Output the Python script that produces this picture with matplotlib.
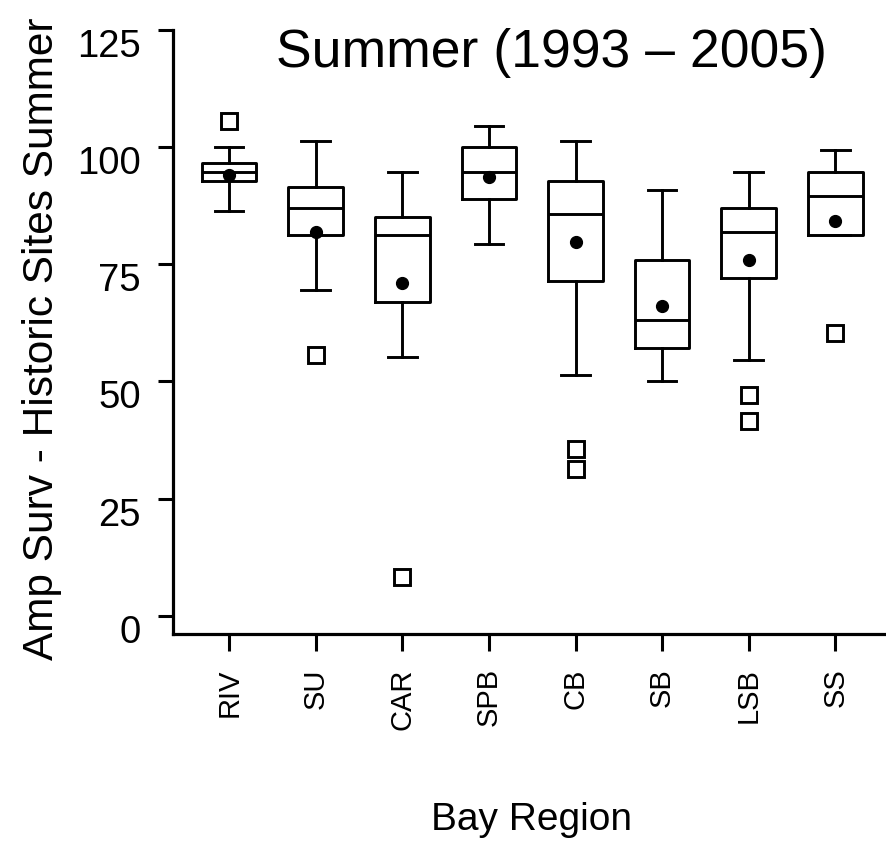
import matplotlib
matplotlib.use("Agg")
import matplotlib.pyplot as plt
from matplotlib.transforms import ScaledTranslation

font = "Liberation Sans"

regions = ["RIV", "SU", "CAR", "SPB", "CB", "SB", "LSB", "SS"]
whis_hi = [99.9, 101.2, 94.7, 104.4, 101.2, 90.8, 94.7, 99.3]
q3 = [96.6, 91.5, 85.1, 99.9, 92.7, 75.9, 87.0, 94.7]
medians = [94.7, 87.0, 81.3, 94.7, 85.6, 63.0, 81.8, 89.5]
means = [94.1, 81.8, 70.9, 93.5, 79.8, 66.1, 75.9, 84.3]
q1 = [92.7, 81.3, 66.9, 89.0, 71.4, 57.2, 72.0, 81.3]
whis_lo = [86.3, 69.4, 55.2, 79.2, 51.3, 50.0, 54.5, 81.3]
outliers = [[105.5], [55.6], [8.3], [], [35.5, 31.3], [], [47.1, 41.5], [60.4]]

stats = []
for i, name in enumerate(regions):
    stats.append(dict(label=name, whishi=whis_hi[i], q3=q3[i], med=medians[i],
                      mean=means[i], q1=q1[i], whislo=whis_lo[i], fliers=outliers[i]))

fig = plt.figure(figsize=(8.86, 8.45), dpi=100)
ax = fig.add_axes([0.195, 0.2485, 0.805, 0.7152])

lw = 2.1
ax.bxp(stats, positions=range(1, 9), widths=0.63, showmeans=True,
       boxprops=dict(color="black", linewidth=lw),
       whiskerprops=dict(color="black", linewidth=lw),
       capprops=dict(color="black", linewidth=lw),
       medianprops=dict(color="black", linewidth=lw),
       meanprops=dict(marker="o", markerfacecolor="black", markeredgecolor="black", markersize=8.5),
       flierprops=dict(marker="s", markerfacecolor="white", markeredgecolor="black",
                       markersize=11.5, markeredgewidth=2.1),
       capwidths=0.33)

ax.set_xlim(0.349, 8.585)
ax.set_ylim(-3.85, 125)
ax.set_yticks([0, 25, 50, 75, 100, 125])
ax.set_yticklabels(["0", "25", "50", "75", "100", "125"], fontsize=27.5, family=font)
ax.set_xticks(range(1, 9))
ax.set_xticklabels(regions, rotation=90, fontsize=21, family=font)
ax.tick_params(axis="y", length=11, width=2.2, pad=12)
ax.tick_params(axis="x", length=12, width=2.2, pad=12)

# y labels sit a bit below their ticks in the original
shift = ScaledTranslation(0, -0.12, fig.dpi_scale_trans)
for lab in ax.get_yticklabels():
    lab.set_transform(lab.get_transform() + shift)

for s in ["top", "right"]:
    ax.spines[s].set_visible(False)
ax.spines["left"].set_linewidth(2.3)
ax.spines["bottom"].set_linewidth(2.3)
ax.spines["left"].set_bounds(-3.85, 125)

fig.text(0.623, 0.937, "Summer (1993 \u2013 2005)", fontsize=38.5, family=font,
         ha="center", va="center")
fig.text(0.047, 0.599, "Amp Surv - Historic Sites Summer", fontsize=30.5, family=font,
         rotation=90, ha="center", va="center")
fig.text(0.6, 0.03, "Bay Region", fontsize=28, family=font, ha="center", va="center")

fig.savefig("out.png", dpi=100)
